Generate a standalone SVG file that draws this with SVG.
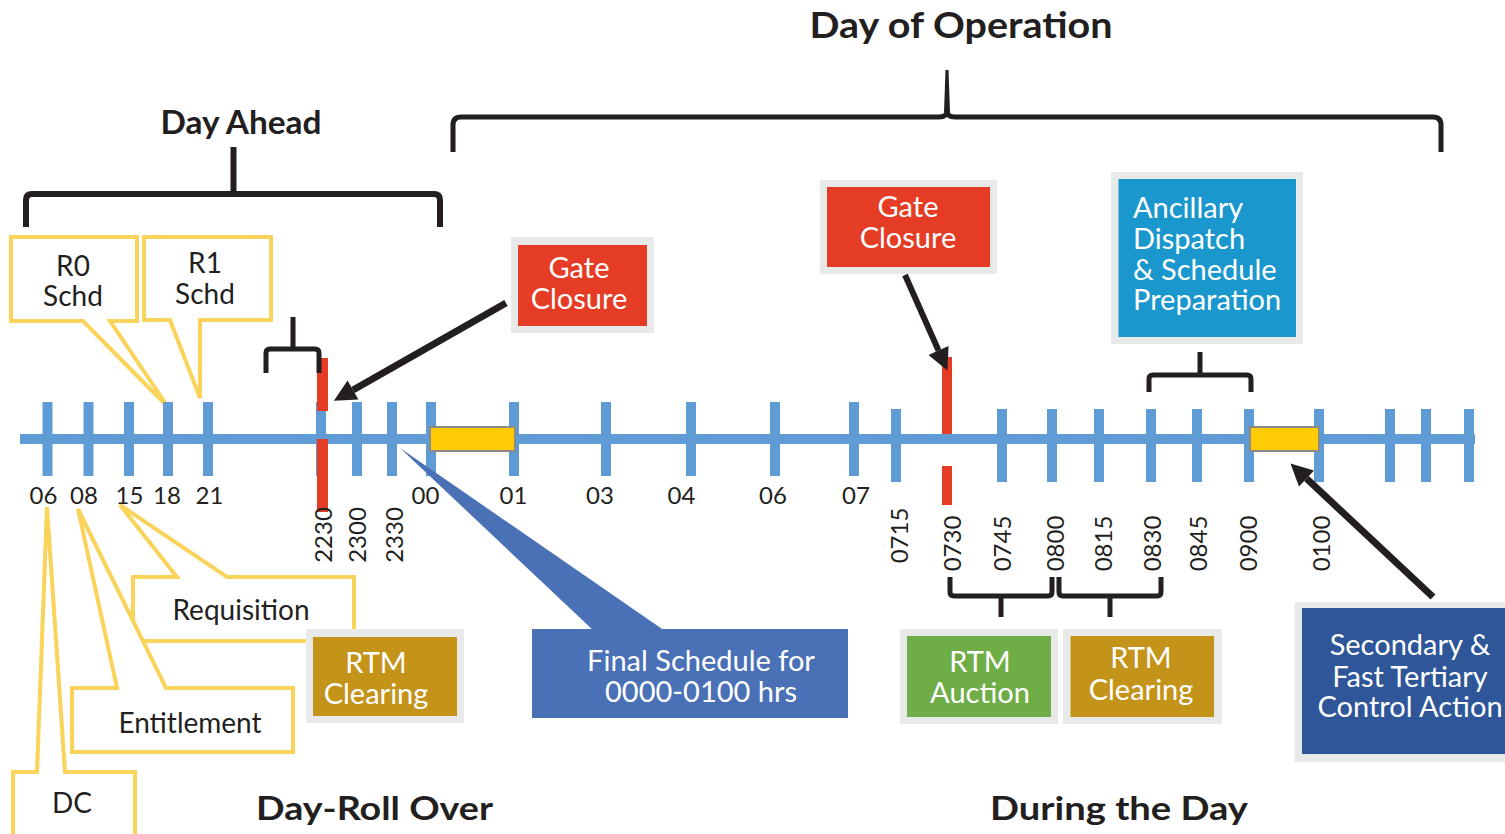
<svg xmlns="http://www.w3.org/2000/svg" width="1505" height="834" viewBox="0 0 1505 834">
<style>
text{font-family:Lato,"Liberation Sans",sans-serif;fill:#231F20}
.lbl{font-size:24px}
.rot{font-size:24px;text-anchor:middle}
.ttl{font-size:32px;font-weight:bold;text-anchor:middle}
.co{fill:#fff;stroke:#F9D35A;stroke-width:4;stroke-linejoin:miter}
.cot{font-size:28px;text-anchor:middle}
.bx{font-size:29px;fill:#fff;text-anchor:middle}
.frame{fill:#E7EAE9}
.brk{fill:none;stroke:#231F20;stroke-width:5;stroke-linejoin:round}
.tick{fill:#5F9BD4}
.red{fill:#E53C25}
.bar{fill:#FFCB05;stroke:#8A8A8A;stroke-width:2}
.arr{stroke:#231F20;stroke-width:7;fill:none}
</style>
<defs>
<marker id="ah" viewBox="0 0 10 10" refX="0" refY="5" markerUnits="userSpaceOnUse" markerWidth="26" markerHeight="22" orient="auto">
<path d="M0,0 L10,5 L0,10 Z" fill="#231F20"/>
</marker>
</defs>

<!-- titles and braces -->
<g id="day-ahead">
<text class="ttl" x="241" y="134" textLength="161" lengthAdjust="spacingAndGlyphs">Day Ahead</text>
<path class="brk" style="stroke-width:6" d="M26,227 V200 Q26,194 32,194 H434 Q440,194 440,200 V227 M233.5,194 V147"/>
</g>
<g id="day-of-operation">
<text class="ttl" x="961" y="38" style="font-size:36px" textLength="303" lengthAdjust="spacingAndGlyphs">Day of Operation</text>
<path class="brk" d="M453,152 V125 Q453,117 461,117 H939 Q947,117 947,111 M1441,152 V125 Q1441,117 1433,117 H955 Q947,117 947,111"/>
<polygon points="945.5,70 948.5,70 950,112 944,112" fill="#231F20"/>
</g>
<g id="day-roll-over">
<text class="ttl" x="374.5" y="820" textLength="237" lengthAdjust="spacingAndGlyphs">Day-Roll Over</text>
</g>
<g id="during-the-day">
<text class="ttl" x="1119" y="820" textLength="258" lengthAdjust="spacingAndGlyphs">During the Day</text>
</g>

<!-- callouts -->
<g id="r0-schd">
<path class="co" d="M11,237 H137 V321 H110 L168,407 L83,321 H11 Z"/>
<text class="cot" x="73" y="276">R0<tspan x="73" dy="30">Schd</tspan></text>
</g>
<g id="r1-schd">
<path class="co" d="M144,237 H271 V320 H200 V398 L170,320 H144 Z"/>
<text class="cot" x="205" y="273">R1<tspan x="205" dy="31">Schd</tspan></text>
</g>
<g id="dc">
<path class="co" d="M13,772 H37 L47,507 L65,772 H135 V845 H13 Z"/>
<text class="cot" x="72" y="813">DC</text>
</g>
<g id="requisition">
<path class="co" d="M133,577 H177 L120,505 L227,577 H354 V641 H133 Z"/>
<text class="cot" x="241" y="620">Requisition</text>
</g>
<g id="entitlement">
<path class="co" d="M72,688 H117 L78,509 L166,688 H293 V752 H72 Z"/>
<text class="cot" x="190" y="733">Entitlement</text>
</g>

<!-- timeline -->
<g id="timeline">
<rect class="tick" x="20" y="434" width="1455" height="10"/>
<g>
<rect class="tick" x="42.5" y="402" width="10" height="74"/>
<rect class="tick" x="83.5" y="402" width="10" height="74"/>
<rect class="tick" x="124" y="402" width="10" height="74"/>
<rect class="tick" x="163" y="402" width="10" height="74"/>
<rect class="tick" x="203" y="402" width="10" height="74"/>
<rect class="tick" x="316" y="402" width="10" height="74"/>
<rect class="tick" x="352" y="402" width="10" height="74"/>
<rect class="tick" x="387" y="402" width="10" height="74"/>
<rect class="tick" x="426" y="402" width="10" height="74"/>
<rect class="tick" x="509" y="402" width="10" height="74"/>
<rect class="tick" x="601" y="402" width="10" height="74"/>
<rect class="tick" x="686" y="402" width="10" height="74"/>
<rect class="tick" x="770" y="402" width="10" height="74"/>
<rect class="tick" x="849" y="402" width="10" height="74"/>
</g>
<g>
<rect class="tick" x="891" y="409" width="10" height="73"/>
<rect class="tick" x="997" y="409" width="10" height="73"/>
<rect class="tick" x="1047" y="409" width="10" height="73"/>
<rect class="tick" x="1094" y="409" width="10" height="73"/>
<rect class="tick" x="1146" y="409" width="10" height="73"/>
<rect class="tick" x="1192" y="409" width="10" height="73"/>
<rect class="tick" x="1244" y="409" width="10" height="73"/>
<rect class="tick" x="1314" y="409" width="10" height="73"/>
<rect class="tick" x="1385" y="409" width="10" height="73"/>
<rect class="tick" x="1421" y="409" width="10" height="73"/>
<rect class="tick" x="1464" y="409" width="10" height="73"/>
</g>
<rect class="bar" x="430" y="427" width="85" height="24"/>
<rect class="bar" x="1250" y="427" width="69" height="24"/>
<rect class="red" x="317" y="358" width="11" height="53"/>
<rect class="red" x="317" y="439" width="11" height="73"/>
<rect class="red" x="942" y="357" width="10" height="77"/>
<rect fill="#fff" x="942" y="444" width="10" height="22"/>
<rect class="red" x="942" y="466" width="10" height="39"/>
</g>

<g id="tick-labels">
<text class="lbl" x="43.5" y="504" text-anchor="middle">06</text>
<text class="lbl" x="84" y="504" text-anchor="middle">08</text>
<text class="lbl" x="129.5" y="504" text-anchor="middle">15</text>
<text class="lbl" x="167" y="504" text-anchor="middle">18</text>
<text class="lbl" x="209.5" y="504" text-anchor="middle">21</text>
<text class="lbl" x="425.5" y="504" text-anchor="middle">00</text>
<text class="lbl" x="513.5" y="504" text-anchor="middle">01</text>
<text class="lbl" x="600" y="504" text-anchor="middle">03</text>
<text class="lbl" x="681.5" y="504" text-anchor="middle">04</text>
<text class="lbl" x="773" y="504" text-anchor="middle">06</text>
<text class="lbl" x="856" y="504" text-anchor="middle">07</text>
<text class="rot" transform="translate(332,535) rotate(-90)">2230</text>
<text class="rot" transform="translate(366,535) rotate(-90)">2300</text>
<text class="rot" transform="translate(403,535) rotate(-90)">2330</text>
<text class="rot" transform="translate(908,535.5) rotate(-90)">0715</text>
<text class="rot" transform="translate(961,543.5) rotate(-90)">0730</text>
<text class="rot" transform="translate(1011,543.5) rotate(-90)">0745</text>
<text class="rot" transform="translate(1064,543.5) rotate(-90)">0800</text>
<text class="rot" transform="translate(1112,543.5) rotate(-90)">0815</text>
<text class="rot" transform="translate(1161,543.5) rotate(-90)">0830</text>
<text class="rot" transform="translate(1207,543.5) rotate(-90)">0845</text>
<text class="rot" transform="translate(1257,543.5) rotate(-90)">0900</text>
<text class="rot" transform="translate(1330,543.5) rotate(-90)">0100</text>
</g>

<!-- boxes -->
<g id="gate-closure-1">
<rect class="frame" x="511" y="237" width="143" height="96"/>
<rect class="red" x="518" y="245" width="129" height="81"/>
<text class="bx" x="579" y="278">Gate<tspan x="579" dy="31">Closure</tspan></text>
</g>
<g id="gate-closure-2">
<rect class="frame" x="820" y="180" width="177" height="94"/>
<rect class="red" x="827" y="187" width="163" height="80"/>
<text class="bx" x="908" y="217">Gate<tspan x="908" dy="31">Closure</tspan></text>
</g>
<g id="ancillary">
<rect class="frame" x="1111" y="172" width="192" height="172"/>
<rect x="1118.5" y="179" width="177.5" height="158" fill="#1A97CD"/>
<text class="bx" style="text-anchor:start" x="1133" y="218">Ancillary<tspan x="1133" dy="31">Dispatch</tspan><tspan x="1133" dy="31">&amp; Schedule</tspan><tspan x="1133" dy="30">Preparation</tspan></text>
</g>
<g id="rtm-clearing-1">
<rect class="frame" x="306" y="629" width="158" height="94"/>
<rect x="313" y="637" width="144" height="79" fill="#C4931A"/>
<text class="bx" x="376" y="673">RTM<tspan x="376" dy="31">Clearing</tspan></text>
</g>
<g id="final-schedule">
<polygon points="400,448 594,631 665,631" fill="#4A71B6"/>
<rect x="532" y="629" width="316" height="89" fill="#4A71B6"/>
<text class="bx" x="701" y="671">Final Schedule for<tspan x="701" dy="31">0000-0100 hrs</tspan></text>
</g>
<g id="rtm-auction">
<rect class="frame" x="900" y="629" width="158" height="95"/>
<rect x="907" y="636" width="144" height="81" fill="#6FAD46"/>
<text class="bx" x="980" y="672">RTM<tspan x="980" dy="31">Auction</tspan></text>
</g>
<g id="rtm-clearing-2">
<rect class="frame" x="1063" y="629" width="159" height="95"/>
<rect x="1070.5" y="636" width="143.5" height="81" fill="#C4931A"/>
<text class="bx" x="1141" y="668">RTM<tspan x="1141" dy="32">Clearing</tspan></text>
</g>
<g id="secondary">
<rect class="frame" x="1294.5" y="602" width="215" height="160"/>
<rect x="1302" y="608" width="210" height="146" fill="#2E5699"/>
<text class="bx" x="1410" y="655">Secondary &amp;<tspan x="1410" dy="32">Fast Tertiary</tspan><tspan x="1410" dy="30">Control Action</tspan></text>
</g>

<!-- connectors -->
<g id="connectors">
<path class="brk" d="M266,373 V353 Q266,349 270,349 H315 Q319,349 319,353 V373 M293,349 V317"/>
<path class="brk" d="M1149,392 V379 Q1149,375 1153,375 H1247 Q1251,375 1251,379 V392 M1200,375 V352"/>
<path class="brk" d="M950,577 V592 Q950,596 954,596 H1048 Q1052,596 1052,592 V577 M1001,596 V617"/>
<path class="brk" d="M1059,577 V592 Q1059,596 1063,596 H1157 Q1161,596 1161,592 V577 M1110,596 V617"/>
<line class="arr" x1="506" y1="303" x2="353" y2="390" marker-end="url(#ah)"/>
<line class="arr" style="stroke-width:6" x1="905" y1="275" x2="938.5" y2="350.5" marker-end="url(#ah)"/>
<line class="arr" x1="1433" y1="597" x2="1306.5" y2="478.5" marker-end="url(#ah)"/>
</g>
</svg>
